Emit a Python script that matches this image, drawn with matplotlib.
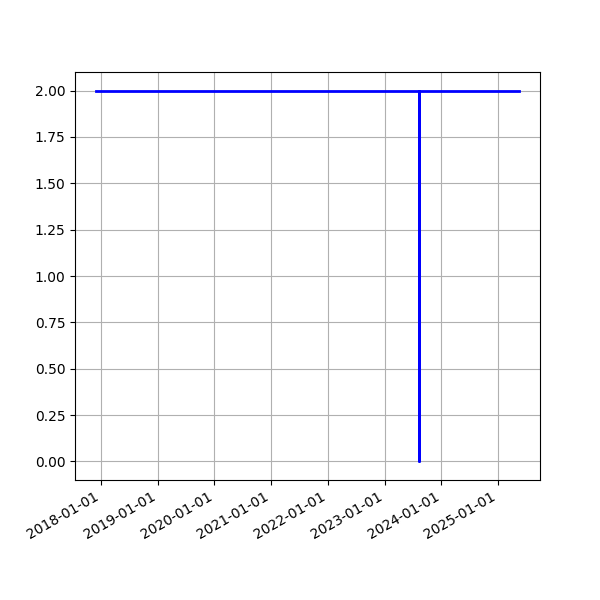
import matplotlib
matplotlib.use("Agg")
import matplotlib.pyplot as plt
import matplotlib.dates as mdates
import pandas as pd

# step series: flat at 2 with one drop to 0
dates = pd.to_datetime(["2017-11-30", "2023-08-07", "2023-08-07", "2023-08-07", "2025-05-14"])
values = [2, 2, 0, 2, 2]

fig, ax = plt.subplots(figsize=(6, 6), dpi=100)
ax.plot(dates, values, color="blue", linewidth=2)

ax.xaxis.set_major_locator(mdates.YearLocator())
ax.xaxis.set_major_formatter(mdates.DateFormatter("%Y-%m-%d"))
ax.grid(True)
fig.autofmt_xdate()

fig.savefig("out.png")
plt.close(fig)
